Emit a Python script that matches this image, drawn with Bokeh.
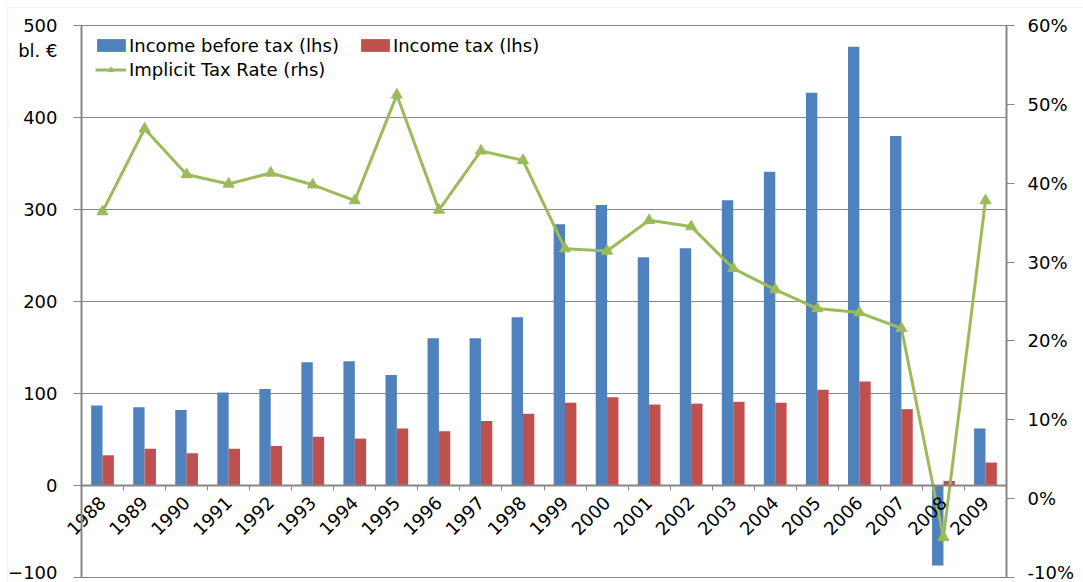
import math
from bokeh.plotting import figure
from bokeh.models import (Range1d, LinearAxis, FixedTicker, PrintfTickFormatter,
                          Legend, LegendItem, ColumnDataSource, BoxAnnotation)
from bokeh.embed import file_html
from bokeh.resources import INLINE

years = ["1988", "1989", "1990", "1991", "1992", "1993", "1994", "1995", "1996", "1997",
         "1998", "1999", "2000", "2001", "2002", "2003", "2004", "2005", "2006", "2007",
         "2008", "2009"]
income_before_tax = [87, 85, 82, 101, 105, 134, 135, 120, 160, 160,
                     183, 284, 305, 248, 258, 310, 341, 427, 477, 380,
                     -87, 62]
income_tax = [33, 40, 35, 40, 43, 53, 51, 62, 59, 70,
              78, 90, 96, 88, 89, 91, 90, 104, 113, 83,
              5, 25]
implicit_tax_rate = [36.4, 46.9, 41.1, 39.9, 41.3, 39.8, 37.8, 51.2, 36.6, 44.1,
                     42.9, 31.7, 31.4, 35.3, 34.5, 29.2, 26.5, 24.1, 23.6, 21.6,
                     -4.9, 37.8]
left_ticks = [-100, 0, 100, 200, 300, 400, 500]
right_ticks = [-10, 0, 10, 20, 30, 40, 50, 60]
unit_label = "bl. €"
unit_pos = 473

FONT = "DejaVu Sans"
FS = "18px"
BLUE = "#4F81BD"
RED = "#C0504D"
GREEN = "#9BBB59"
AXIS = "#868686"

# layout (pixels): the frame covers the whole canvas, axes are drawn at fixed locations
W, H = 1083, 582
AX_L, AX_R, TOP, BOT = 81, 1006, 25, 577

n = len(years)
xc = [i + 0.5 for i in range(n)]
bw = 0.27

lmin, lmax = left_ticks[0], left_ticks[-1]
rmin, rmax = right_ticks[0], right_ticks[-1]
sx = (AX_R - AX_L) / n
sy = (BOT - TOP) / (lmax - lmin)
sp = (BOT - TOP) / (rmax - rmin)
x_rng = Range1d(-AX_L / sx, n + (W - AX_R) / sx)
y_rng = Range1d(lmin - (H - BOT) / sy, lmax + TOP / sy)
p_rng = Range1d(rmin - (H - BOT) / sp, rmax + TOP / sp)


def px2x(px):
    return x_rng.start + px / sx


def px2y(py):
    return y_rng.end - py / sy


p = figure(width=W, height=H, output_backend="svg", toolbar_location=None,
           x_range=x_rng, y_range=y_rng,
           min_border_left=0, min_border_right=0, min_border_top=0, min_border_bottom=0)
p.outline_line_color = None
p.xgrid.visible = False
p.ygrid.visible = False
p.background_fill_color = "white"
p.border_fill_color = "white"

# outer chart border (top and left visible)
p.add_layout(BoxAnnotation(left=px2x(7), right=px2x(W + 20), top=px2y(7), bottom=px2y(H + 20),
                           fill_alpha=0, line_color="#d9d9d9", line_width=1.5))

# horizontal grid lines
grid_ticks = [t for t in left_ticks if t != 0]
p.segment(x0=[0] * len(grid_ticks), y0=grid_ticks, x1=[n] * len(grid_ticks), y1=grid_ticks,
          line_color=AXIS, line_width=1)

# bars
src = ColumnDataSource(dict(
    xb=[x - bw / 2 for x in xc], xr=[x + bw / 2 for x in xc],
    ibt=income_before_tax, it=income_tax))
r_blue = p.vbar(x="xb", top="ibt", bottom=0, width=bw, source=src,
                fill_color=BLUE, line_color=None)
r_red = p.vbar(x="xr", top="it", bottom=0, width=bw, source=src,
               fill_color=RED, line_color=None)

# category axis drawn at y = 0
xa = p.xaxis[0]
xa.fixed_location = 0
xa.bounds = (0, n)
xa.ticker = FixedTicker(ticks=xc, minor_ticks=list(range(0, n + 1)))
xa.major_label_overrides = {x: y for x, y in zip(xc, years)}
xa.major_label_orientation = math.pi / 4
xa.major_label_standoff = 8
xa.major_tick_line_color = None
xa.minor_tick_line_color = AXIS
xa.minor_tick_out = 5
xa.minor_tick_in = 0
xa.axis_line_color = AXIS
xa.axis_line_width = 2
xa.major_label_text_font = FONT
xa.major_label_text_font_size = FS
xa.major_label_text_color = "black"

# left axis: line and tick marks
ya = p.yaxis[0]
ya.fixed_location = 0
ya.bounds = (lmin, lmax)
ya.ticker = FixedTicker(ticks=left_ticks)
ya.major_label_overrides = {t: "" for t in left_ticks}
ya.major_label_standoff = 0
ya.axis_line_color = AXIS
ya.axis_line_width = 2
ya.major_tick_line_color = AXIS
ya.major_tick_out = 8
ya.major_tick_in = 0
ya.minor_tick_line_color = None

# left axis labels (incl. unit label)
la = LinearAxis(ticker=FixedTicker(ticks=left_ticks + [unit_pos]),
                major_label_overrides={unit_pos: unit_label}, fixed_location=0)
la.axis_line_color = None
la.major_tick_line_color = None
la.major_tick_out = 0
la.minor_tick_line_color = None
la.major_label_text_font = FONT
la.major_label_text_font_size = FS
la.major_label_text_color = "black"
la.major_label_standoff = 24
p.add_layout(la, "left")

# right axis
p.extra_y_ranges = {"pct": p_rng}
ra = LinearAxis(y_range_name="pct", ticker=FixedTicker(ticks=right_ticks),
                formatter=PrintfTickFormatter(format="%d%%"), fixed_location=n,
                bounds=(rmin, rmax))
ra.axis_line_color = AXIS
ra.axis_line_width = 2
ra.major_tick_line_color = AXIS
ra.major_tick_out = 8
ra.major_tick_in = 0
ra.minor_tick_line_color = None
ra.major_label_text_font = FONT
ra.major_label_text_font_size = FS
ra.major_label_text_color = "black"
ra.major_label_standoff = 13
p.add_layout(ra, "right")

# line
r_line = p.line(xc, implicit_tax_rate, y_range_name="pct", line_color=GREEN, line_width=3)
r_mark = p.scatter(xc, implicit_tax_rate, y_range_name="pct", marker="triangle", size=11,
                   fill_color=GREEN, line_color=GREEN)

# legends
leg_a = Legend(items=[LegendItem(label="Income before tax (lhs)", renderers=[r_blue]),
                      LegendItem(label="Income tax (lhs)", renderers=[r_red])],
               orientation="horizontal", location=(93, 526.5))
leg_a.glyph_width = 36
leg_a.glyph_height = 16
leg_a.label_height = 16
leg_a.label_standoff = 0
leg_a.spacing = 18
leg_b = Legend(items=[LegendItem(label="Implicit Tax Rate (rhs)", renderers=[r_line, r_mark])],
               orientation="vertical", location=(95, 502))
leg_b.glyph_width = 31
leg_b.glyph_height = 13
leg_b.label_height = 13
leg_b.label_standoff = 3
for lg in (leg_a, leg_b):
    lg.padding = 0
    lg.margin = 0
    lg.border_line_color = None
    lg.background_fill_alpha = 0
    lg.label_text_font = FONT
    lg.label_text_font_size = FS
    lg.label_text_color = "black"
    lg.label_text_baseline = "middle"
    p.add_layout(lg)

open("out.html", "w").write(file_html(p, INLINE))
